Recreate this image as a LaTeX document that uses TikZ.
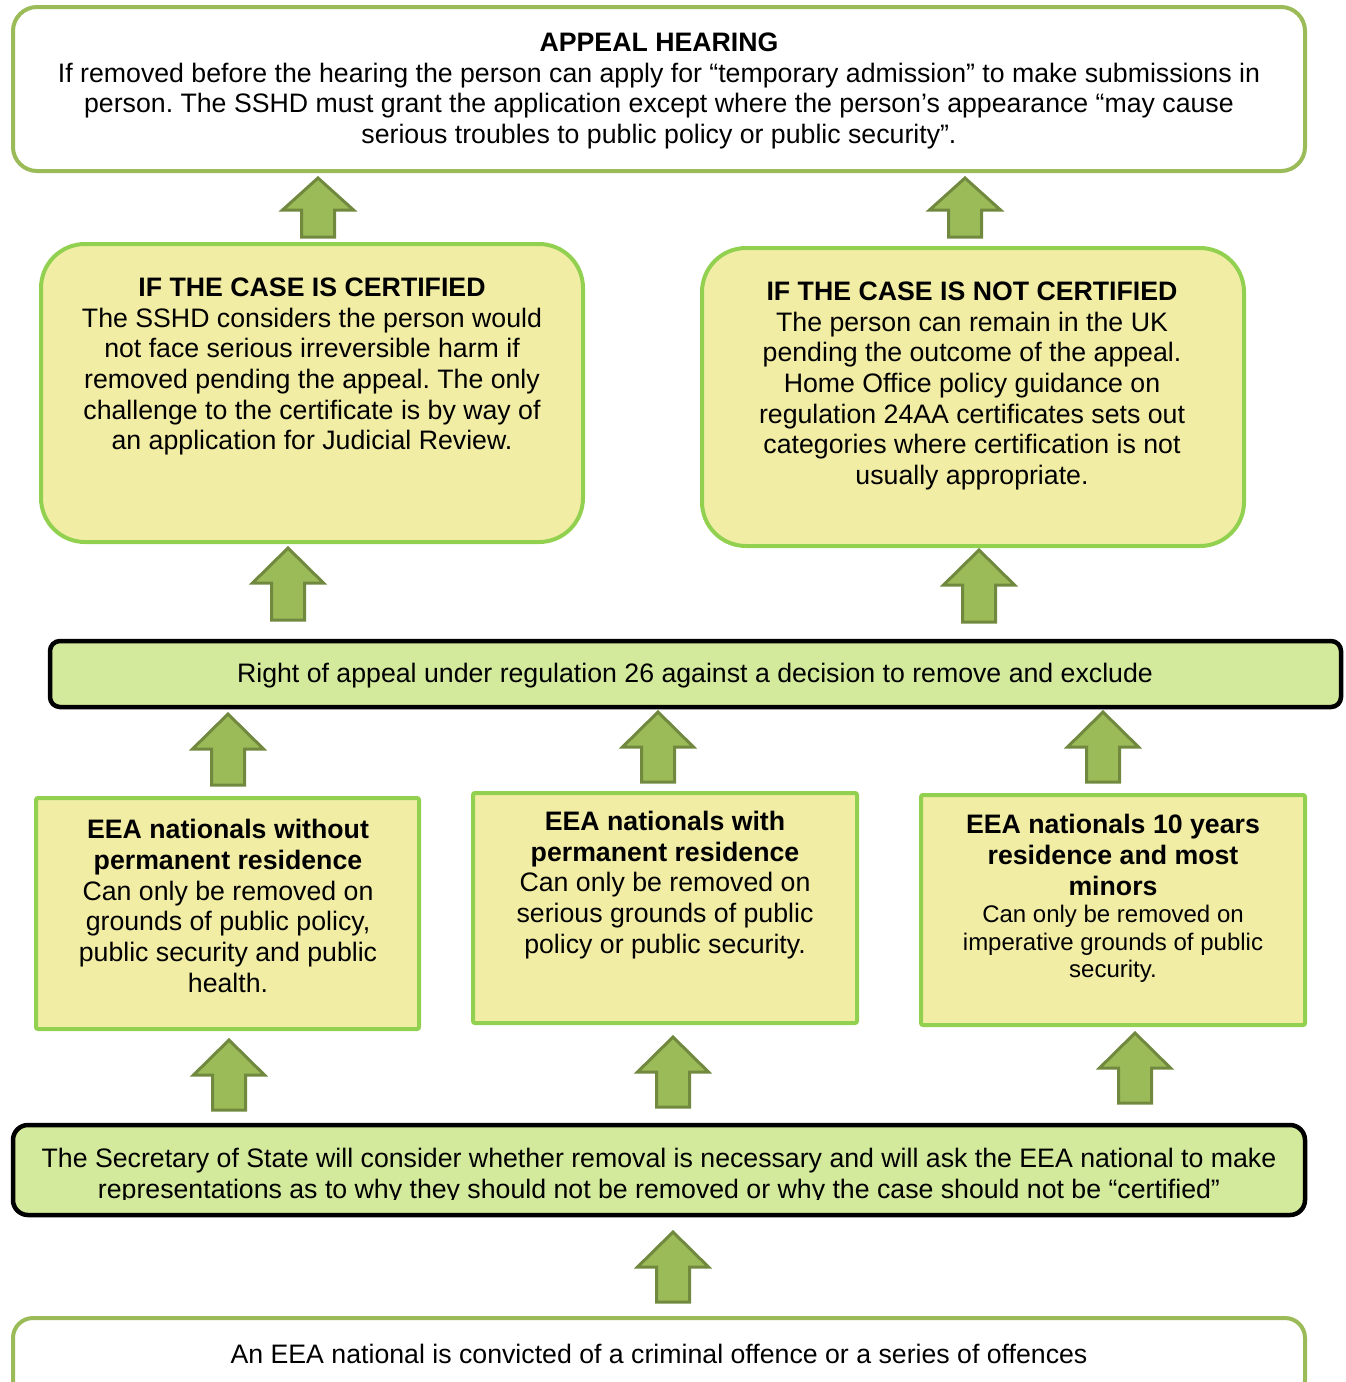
\documentclass[tikz,border=0pt]{standalone}
\usepackage{fontspec}
\setmainfont{Liberation Sans}
\frenchspacing
\definecolor{olivegreen}{HTML}{9BBB59}
\definecolor{arrowedge}{HTML}{71893F}
\definecolor{brightgreen}{HTML}{92D050}
\definecolor{paleyellow}{HTML}{F2EDA4}
\definecolor{palegreen}{HTML}{D3E99B}
\tikzset{
  outerbox/.style={draw=olivegreen, line width=4pt, fill=white, rounded corners=24pt},
  casebox/.style={draw=brightgreen, line width=4pt, fill=paleyellow, rounded corners=44pt},
  groupbox/.style={draw=brightgreen, line width=4pt, fill=paleyellow, rounded corners=2pt},
  keybox/.style={draw=black, line width=4.5pt, fill=palegreen},
  txt/.style={align=center, inner sep=0pt, font=\fontsize{26.7}{30.7}\selectfont},
  smalltxt/.style={align=center, inner sep=0pt, font=\fontsize{24}{27.6}\selectfont},
  blockarrow/.style={fill=olivegreen, draw=arrowedge, line width=3pt, line join=miter}
}
% upward block arrow: centre x, tip y, bottom y, head depth
\newcommand\uparrowshape[5]{%
  \draw[blockarrow] (#1,#2) coordinate (#5)
    -- (#1+35.5,#2+#4) -- (#1+16.5,#2+#4) -- (#1+16.5,#3)
    -- (#1-16.5,#3) -- (#1-16.5,#2+#4) -- (#1-35.5,#2+#4) -- cycle;}
\begin{document}
\begin{tikzpicture}[x=1pt,y=-1pt]
\useasboundingbox (0,0) rectangle (1346,1382);

% boxes
\draw[outerbox] (13,7) rectangle (1305,171);
\draw[casebox] (41,244) rectangle (583,542);
\draw[casebox] (702,248) rectangle (1244,546);
\draw[keybox, rounded corners=10pt] (50,641) rectangle (1341,707);
\draw[groupbox] (36,798) rectangle (419,1029);
\draw[groupbox] (473,793) rectangle (857,1023);
\draw[groupbox] (921,795) rectangle (1305,1025);
\draw[keybox, rounded corners=15pt] (13,1125) rectangle (1305,1215);
\draw[outerbox, rounded corners=20pt] (13,1318) rectangle (1305,1400);

% texts
\node[txt] (hearingtext) at (659,91) {\textbf{APPEAL HEARING}\\
  If removed before the hearing the person can apply for “temporary admission” to make submissions in\\
  person. The SSHD must grant the application except where the person’s appearance “may cause\\
  serious troubles to public policy or public security”.};
\node[txt] (certified) at (312,366.5) {\textbf{IF THE CASE IS CERTIFIED}\\
  The SSHD considers the person would\\
  not face serious irreversible harm if\\
  removed pending the appeal. The only\\
  challenge to the certificate is by way of\\
  an application for Judicial Review.};
\node[txt] (notcertified) at (972,386) {\textbf{IF THE CASE IS NOT CERTIFIED}\\
  The person can remain in the UK\\
  pending the outcome of the appeal.\\
  Home Office policy guidance on\\
  regulation 24AA certificates sets out\\
  categories where certification is not\\
  usually appropriate.};
\node[txt] (appeal) at (695,675.5) {Right of appeal under regulation 26 against a decision to remove and exclude};
\node[txt] (without) at (228,906) {\textbf{EEA nationals without}\\
  \textbf{permanent residence}\\
  Can only be removed on\\
  grounds of public policy,\\
  public security and public\\
  health.};
\node[txt] (with) at (665,885) {\textbf{EEA nationals with}\\
  \textbf{permanent residence}\\
  Can only be removed on\\
  serious grounds of public\\
  policy or public security.};
\node[txt] (tenyears) at (1113,855) {\textbf{EEA nationals 10 years}\\
  \textbf{residence and most}\\
  \textbf{minors}};
\node[smalltxt] (tenyearstext) at (1113,944) {Can only be removed on\\
  imperative grounds of public\\
  security.};
\begin{scope}
  \clip (13,1125) rectangle (1305,1199);
  \node[txt] (secretary) at (659,1176) {The Secretary of State will consider whether removal is necessary and will ask the EEA national to make\\
    representations as to why they should not be removed or why the case should not be “certified”};
\end{scope}
\node[txt] (convicted) at (659,1353.5) {An EEA national is convicted of a criminal offence or a series of offences};

% block arrows
\uparrowshape{318}{178}{237}{32}{a1}
\uparrowshape{965}{178}{237}{32}{a2}
\uparrowshape{288}{548}{620}{35}{a3}
\uparrowshape{979}{550}{622}{35}{a4}
\uparrowshape{228}{714}{785}{35}{a5}
\uparrowshape{658}{712}{782}{35}{a6}
\uparrowshape{1103}{712}{782}{35}{a7}
\uparrowshape{229}{1040}{1110}{35}{a8}
\uparrowshape{673}{1037}{1107}{35}{a9}
\uparrowshape{1135}{1033}{1103}{35}{a10}
\uparrowshape{673}{1232}{1302}{35}{a11}
\end{tikzpicture}
\end{document}
